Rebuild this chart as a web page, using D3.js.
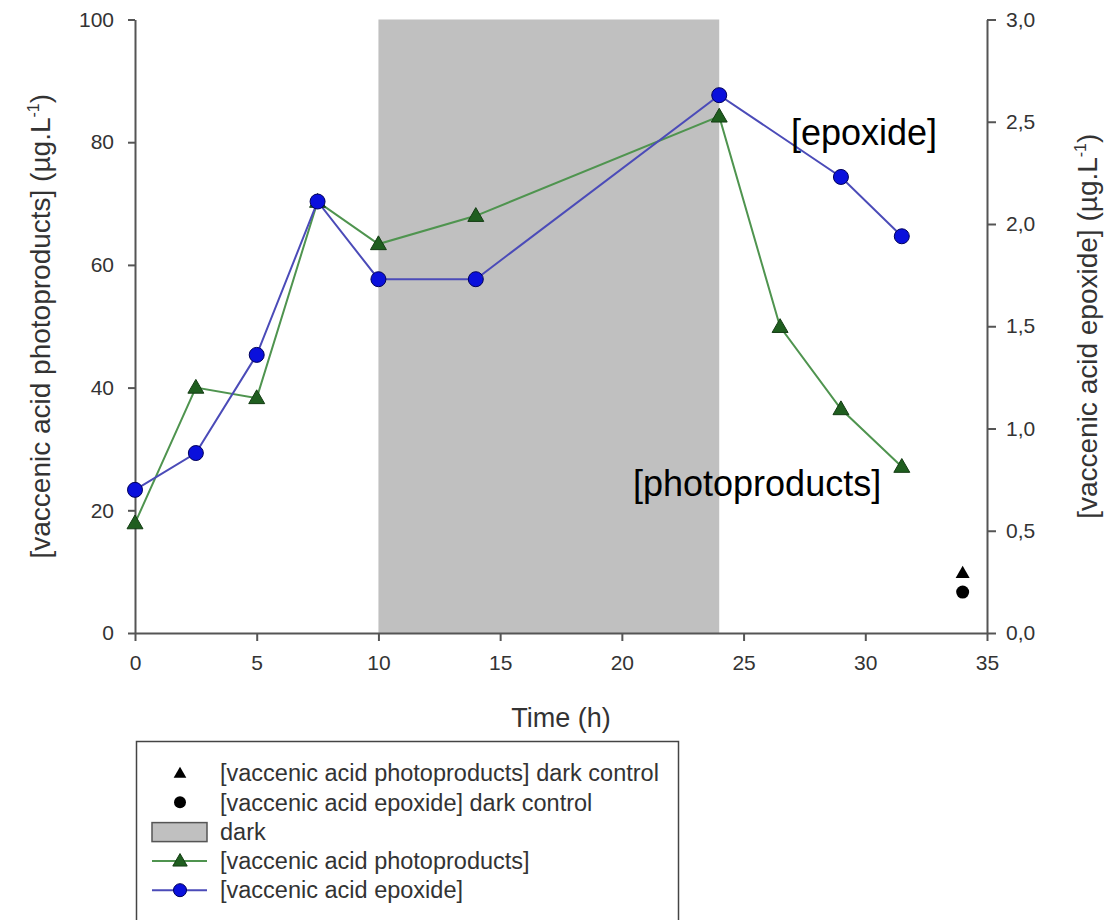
<!DOCTYPE html>
<html>
<head>
<meta charset="utf-8">
<script src="https://cdn.jsdelivr.net/npm/d3@7"></script>
<style>
  html, body { margin: 0; padding: 0; background: #fff; }
  svg { display: block; font-family: "Liberation Sans", Arial, sans-serif; }
</style>
</head>
<body>
<div id="chart"></div>
<script>
// Time points (h)
const times = [0, 2.5, 5, 7.5, 10, 14, 24, 26.5, 29, 31.5];
// [vaccenic acid photoproducts] (µg/L), left axis
const photoproducts = [17.9, 40.0, 38.3, 70.3, 63.4, 68.0, 84.2, 49.9, 36.5, 27.1];
// [vaccenic acid epoxide] (µg/L), right axis
const epoxide = [0.70, 0.88, 1.36, 2.11, 1.73, 1.73, 2.63, 2.23, 1.94];
const epoxideTimes = [0, 2.5, 5, 7.5, 10, 14, 24, 29, 31.5];
// dark controls
const darkControlTime = 34;
const darkPhoto = 9.8;
const darkEpox = 0.2;
// dark period
const darkPeriod = [10, 24];

const xTicks = [0, 5, 10, 15, 20, 25, 30, 35];
const yLeftTicks = [0, 20, 40, 60, 80, 100];
const yRightTicks = [0, 0.5, 1.0, 1.5, 2.0, 2.5, 3.0];

const legendItems = [
  { kind: "darkTri", label: "[vaccenic acid photoproducts] dark control" },
  { kind: "darkDot", label: "[vaccenic acid epoxide] dark control" },
  { kind: "rect", label: "dark" },
  { kind: "green", label: "[vaccenic acid photoproducts]" },
  { kind: "blue", label: "[vaccenic acid epoxide]" },
];

const W = 1104, H = 920;
const margin = { left: 135, top: 19.5, right: 117, bottom: 287 };
const innerW = W - margin.left - margin.right;
const innerH = H - margin.top - margin.bottom;

const GREEN_LINE = "#4f944f", GREEN_FILL = "#1f5e1f", GREEN_STROKE = "#143c14";
const BLUE_LINE = "#4b4bb8", BLUE_FILL = "#0a10dc", BLUE_STROKE = "#00005a";
const AXIS = "#555", TEXT = "#333";

const svg = d3.select("#chart").append("svg").attr("width", W).attr("height", H);
const g = svg.append("g").attr("transform", `translate(${margin.left},${margin.top})`);

const x = d3.scaleLinear().domain([0, 35]).range([0, innerW]);
const yL = d3.scaleLinear().domain([0, 100]).range([innerH, 0]);
const yR = d3.scaleLinear().domain([0, 3]).range([innerH, 0]);

// dark band
g.append("rect")
  .attr("x", x(darkPeriod[0]))
  .attr("y", yL(100))
  .attr("width", x(darkPeriod[1]) - x(darkPeriod[0]))
  .attr("height", yL(0) - yL(100))
  .attr("fill", "#c0c0c0");

// axes
function styleAxis(a) {
  a.select(".domain").attr("stroke", AXIS).attr("stroke-width", 2);
  a.selectAll(".tick line").attr("stroke", AXIS).attr("stroke-width", 2);
  a.selectAll(".tick text").attr("fill", TEXT).attr("font-size", "21px")
    .attr("font-family", "Liberation Sans, Arial, sans-serif");
}

const xAxis = g.append("g").attr("transform", `translate(0,${innerH})`)
  .call(d3.axisBottom(x).tickValues(xTicks).tickSize(8).tickSizeOuter(0).tickPadding(14));
styleAxis(xAxis);

const yAxisL = g.append("g")
  .call(d3.axisLeft(yL).tickValues(yLeftTicks).tickSize(7).tickSizeOuter(0).tickPadding(14));
styleAxis(yAxisL);

const commaFmt = v => d3.format(".1f")(v).replace(".", ",");
const yAxisR = g.append("g").attr("transform", `translate(${innerW},0)`)
  .call(d3.axisRight(yR).tickValues(yRightTicks).tickFormat(commaFmt).tickSize(9).tickSizeOuter(0).tickPadding(10));
styleAxis(yAxisR);

// axis titles
svg.append("text")
  .attr("x", margin.left + innerW / 2).attr("y", 727)
  .attr("text-anchor", "middle").attr("font-size", "27px").attr("fill", TEXT)
  .text("Time (h)");

function unitLabel(sel, main) {
  sel.append("tspan").text(main + " (µg.L");
  sel.append("tspan").attr("dy", -11).attr("font-size", "16px").text("-1");
  sel.append("tspan").attr("dy", 11).text(")");
}

const yLT = svg.append("text")
  .attr("transform", `translate(50,${margin.top + innerH / 2}) rotate(-90)`)
  .attr("text-anchor", "middle").attr("font-size", "28px").attr("fill", TEXT);
unitLabel(yLT, "[vaccenic acid photoproducts]");

const yRT = svg.append("text")
  .attr("transform", `translate(1097,${margin.top + innerH / 2}) rotate(-90)`)
  .attr("text-anchor", "middle").attr("font-size", "28px").attr("fill", TEXT);
unitLabel(yRT, "[vaccenic acid epoxide]");

// lines
const photoPts = times.map((t, i) => [t, photoproducts[i]]);
const epoxPts = epoxideTimes.map((t, i) => [t, epoxide[i]]);

const tri = d3.symbol().type(d3.symbolTriangle);

g.append("path")
  .datum(photoPts)
  .attr("fill", "none").attr("stroke", GREEN_LINE).attr("stroke-width", 2)
  .attr("d", d3.line().x(d => x(d[0])).y(d => yL(d[1])));

g.append("path")
  .datum(epoxPts)
  .attr("fill", "none").attr("stroke", BLUE_LINE).attr("stroke-width", 2)
  .attr("d", d3.line().x(d => x(d[0])).y(d => yR(d[1])));

g.selectAll("path.tri").data(photoPts).enter().append("path")
  .attr("class", "tri")
  .attr("d", tri.size(110)())
  .attr("transform", d => `translate(${x(d[0])},${yL(d[1]) + 1})`)
  .attr("fill", GREEN_FILL).attr("stroke", GREEN_STROKE).attr("stroke-width", 1);

g.selectAll("circle.dot").data(epoxPts).enter().append("circle")
  .attr("class", "dot")
  .attr("cx", d => x(d[0])).attr("cy", d => yR(d[1]))
  .attr("r", 7.5)
  .attr("fill", BLUE_FILL).attr("stroke", BLUE_STROKE).attr("stroke-width", 1);

// dark controls
g.append("path")
  .attr("d", tri.size(85)())
  .attr("transform", `translate(${x(darkControlTime)},${yL(darkPhoto) + 1})`)
  .attr("fill", "#000");
g.append("circle")
  .attr("cx", x(darkControlTime)).attr("cy", yR(darkEpox)).attr("r", 6.5)
  .attr("fill", "#000");

// annotations
svg.append("text").attr("x", 791).attr("y", 145)
  .attr("font-size", "36px").attr("fill", "#000").text("[epoxide]");
svg.append("text").attr("x", 633).attr("y", 496)
  .attr("font-size", "36px").attr("fill", "#000").text("[photoproducts]");

// legend
const leg = svg.append("g");
leg.append("rect")
  .attr("x", 136.5).attr("y", 741.5).attr("width", 542).attr("height", 220)
  .attr("fill", "none").attr("stroke", "#444").attr("stroke-width", 1.5);

const rowY = i => 773 + i * 29.3;
const symX = 180;

legendItems.forEach((item, i) => {
  const cy = rowY(i);
  if (item.kind === "darkTri") {
    leg.append("path").attr("d", tri.size(70)())
      .attr("transform", `translate(${symX},${cy + 1})`).attr("fill", "#000");
  } else if (item.kind === "darkDot") {
    leg.append("circle").attr("cx", symX).attr("cy", cy).attr("r", 6).attr("fill", "#000");
  } else if (item.kind === "rect") {
    leg.append("rect").attr("x", 152).attr("y", cy - 9).attr("width", 55).attr("height", 19)
      .attr("fill", "#c0c0c0").attr("stroke", "#555").attr("stroke-width", 1.5);
  } else if (item.kind === "green") {
    leg.append("line").attr("x1", 152).attr("x2", 207).attr("y1", cy).attr("y2", cy)
      .attr("stroke", GREEN_LINE).attr("stroke-width", 2);
    leg.append("path").attr("d", tri.size(90)())
      .attr("transform", `translate(${symX},${cy + 1})`)
      .attr("fill", GREEN_FILL).attr("stroke", GREEN_STROKE).attr("stroke-width", 1);
  } else if (item.kind === "blue") {
    leg.append("line").attr("x1", 152).attr("x2", 207).attr("y1", cy).attr("y2", cy)
      .attr("stroke", BLUE_LINE).attr("stroke-width", 2);
    leg.append("circle").attr("cx", symX).attr("cy", cy).attr("r", 6.5)
      .attr("fill", BLUE_FILL).attr("stroke", BLUE_STROKE).attr("stroke-width", 1);
  }
  leg.append("text").attr("x", 220).attr("y", cy).attr("dy", "0.35em")
    .attr("font-size", "23.5px").attr("fill", TEXT).text(item.label);
});
</script>
</body>
</html>
